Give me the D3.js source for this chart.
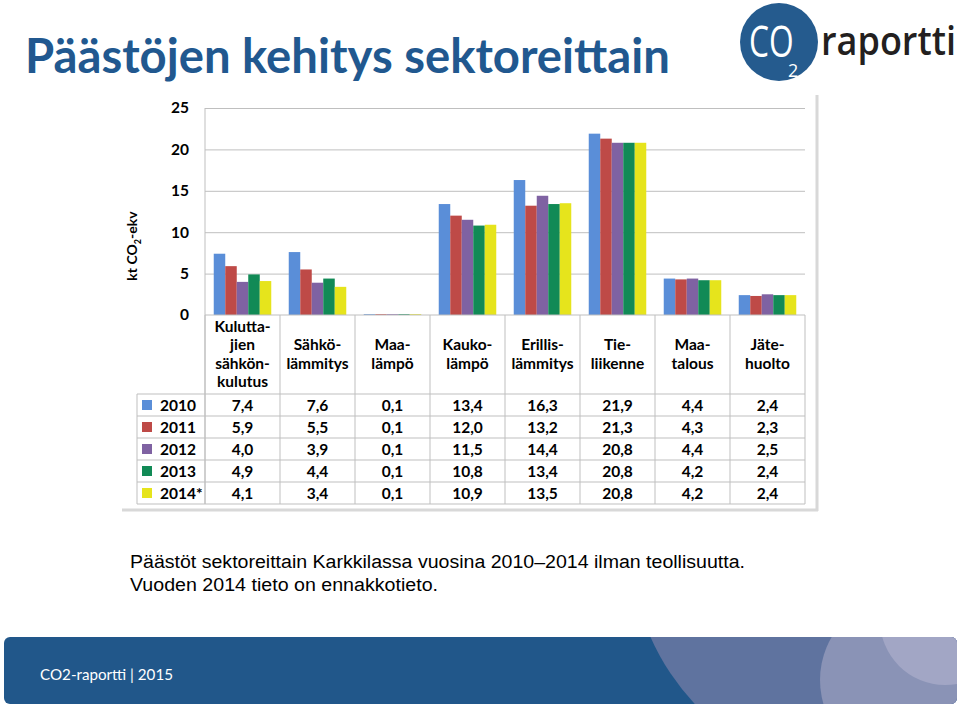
<!DOCTYPE html>
<html><head><meta charset="utf-8">
<script src="https://cdn.jsdelivr.net/npm/d3@7"></script>
<style>html,body{margin:0;padding:0;background:#fff;}svg{display:block;}</style>
</head><body>
<svg id="c" width="960" height="707"></svg>
<script>
const categories = [["Kulutta-","jien","sähkön-","kulutus"],["Sähkö-","lämmitys"],["Maa-","lämpö"],["Kauko-","lämpö"],["Erillis-","lämmitys"],["Tie-","liikenne"],["Maa-","talous"],["Jäte-","huolto"]];
const years = ["2010","2011","2012","2013","2014*"];
const v2010 = [7.4, 7.6, 0.1, 13.4, 16.3, 21.9, 4.4, 2.4];
const v2011 = [5.9, 5.5, 0.1, 12.0, 13.2, 21.3, 4.3, 2.3];
const v2012 = [4.0, 3.9, 0.1, 11.5, 14.4, 20.8, 4.4, 2.5];
const v2013 = [4.9, 4.4, 0.1, 10.8, 13.4, 20.8, 4.2, 2.4];
const v2014 = [4.1, 3.4, 0.1, 10.9, 13.5, 20.8, 4.2, 2.4];
const yTicks = [0, 5, 10, 15, 20, 25];
const seriesColors = ["#5A8ED8", "#BE4A47", "#7F62A2", "#118A56", "#E6E41C"];

const series = [v2010, v2011, v2012, v2013, v2014];
const svg = d3.select("#c");
const CAL = "Lato, 'Open Sans', sans-serif";

// Title
const title = svg.append("text").attr("x", 25).attr("y", 73)
  .attr("font-family", CAL).attr("font-weight", 700).attr("font-size", 40)
  .attr("fill", "#21588F").text("Päästöjen kehitys sektoreittain");
{ const w = title.node().getComputedTextLength(); title.attr("font-size", 40 * 645 / w); }

// Logo
svg.append("circle").attr("cx", 779).attr("cy", 42).attr("r", 39).attr("fill", "#255B8E");
svg.append("text").attr("transform", "translate(749,57) scale(0.72,1)").attr("font-family", "'Open Sans', sans-serif")
  .attr("font-size", 44).attr("fill", "#fff").text("CO");
svg.append("text").attr("x", 788).attr("y", 77).attr("font-family", "'Open Sans', sans-serif")
  .attr("font-size", 18).attr("fill", "#fff").text("2");
const rap = svg.append("text").attr("font-family", "'Open Sans', sans-serif").attr("font-weight", 600)
  .attr("font-size", 40).attr("fill", "#231F20").text("raportti");
{ const w = rap.node().getComputedTextLength(); rap.attr("transform", `translate(821,55) scale(${135 / w},1)`); }

// Chart frame shadow
svg.append("line").attr("x1", 817).attr("x2", 817).attr("y1", 95).attr("y2", 511).attr("stroke", "#D8D8D8").attr("stroke-width", 3);
svg.append("line").attr("x1", 122).attr("x2", 818).attr("y1", 510).attr("y2", 510).attr("stroke", "#D8D8D8").attr("stroke-width", 3);

// Scales
const x0 = d3.scaleBand().domain(d3.range(categories.length)).range([205, 805]).padding(0);
const x1 = d3.scaleBand().domain(d3.range(years.length)).range([0, x0.bandwidth()]).paddingInner(0).paddingOuter(0.76);
const y = d3.scaleLinear().domain([0, 25]).range([315, 108]);

// Gridlines
svg.append("g").attr("transform", "translate(205,0)")
  .call(d3.axisLeft(y).tickValues(yTicks.filter(t => t > 0)).tickSize(-600).tickFormat(""))
  .call(g => g.select(".domain").remove())
  .call(g => g.selectAll("line").attr("stroke", "#BFBFBF"));

// Y axis labels
svg.append("g").attr("transform", "translate(205,0)")
  .call(d3.axisLeft(y).tickValues(yTicks).tickSize(0).tickPadding(16))
  .call(g => g.select(".domain").remove())
  .call(g => g.selectAll("text").attr("font-family", CAL).attr("font-weight", 700).attr("font-size", 15.5).attr("fill", "#000"));
svg.append("line").attr("x1", 205).attr("x2", 205).attr("y1", 108).attr("y2", 504).attr("stroke", "#BFBFBF");

// Y title
const yt = svg.append("text").attr("transform", "translate(137,246) rotate(-90)").attr("text-anchor", "middle")
  .attr("font-family", CAL).attr("font-weight", 700).attr("font-size", 14).attr("fill", "#000");
yt.append("tspan").text("kt CO");
yt.append("tspan").attr("font-size", 9).attr("dy", 4).text("2");
yt.append("tspan").attr("dy", -4).text("-ekv");

// Bars
series.forEach((vals, si) => {
  svg.append("g").selectAll("rect").data(vals).join("rect")
    .attr("x", (d, i) => x0(i) + x1(si))
    .attr("width", x1.bandwidth())
    .attr("y", d => y(d))
    .attr("height", d => y(0) - y(d))
    .attr("fill", seriesColors[si]);
});

// Table
const rowTop = 394, rowH = 22;
const tbl = svg.append("g");
tbl.append("line").attr("x1", 205).attr("x2", 805).attr("y1", 315).attr("y2", 315).attr("stroke", "#BFBFBF");
d3.range(years.length + 1).forEach(r => {
  tbl.append("line").attr("x1", 137).attr("x2", 805).attr("y1", rowTop + r * rowH).attr("y2", rowTop + r * rowH).attr("stroke", "#BFBFBF");
});
d3.range(categories.length + 1).forEach(i => {
  const xx = i < categories.length ? x0(i) : 805;
  tbl.append("line").attr("x1", xx).attr("x2", xx).attr("y1", 315).attr("y2", rowTop + years.length * rowH).attr("stroke", "#BFBFBF");
});
tbl.append("line").attr("x1", 137).attr("x2", 137).attr("y1", rowTop).attr("y2", rowTop + years.length * rowH).attr("stroke", "#BFBFBF");

categories.forEach((lines, i) => {
  const t = tbl.append("text").attr("text-anchor", "middle").attr("font-family", CAL).attr("font-weight", 700)
    .attr("font-size", 15.5).attr("fill", "#000");
  lines.forEach((ln, k) => {
    t.append("tspan").attr("x", x0(i) + x0.bandwidth() / 2)
      .attr("y", 359.5 + (k - (lines.length - 1) / 2) * 18.5).text(ln);
  });
});
const fmt = v => d3.format(".1f")(v).replace(".", ",");
years.forEach((yr, si) => {
  const cy = rowTop + si * rowH + rowH / 2;
  tbl.append("rect").attr("x", 142).attr("y", cy - 5).attr("width", 10).attr("height", 10).attr("fill", seriesColors[si]);
  tbl.append("text").attr("x", 160).attr("y", cy + 5.5).attr("font-family", CAL).attr("font-weight", 700)
    .attr("font-size", 15.5).attr("fill", "#000").text(yr);
  series[si].forEach((v, i) => {
    tbl.append("text").attr("x", x0(i) + x0.bandwidth() / 2).attr("y", cy + 5.5).attr("text-anchor", "middle")
      .attr("font-family", CAL).attr("font-weight", 700).attr("font-size", 15.5).attr("fill", "#000").text(fmt(v));
  });
});

// Caption
svg.append("text").attr("x", 130).attr("y", 568).attr("font-family", "'Liberation Sans', Arial, sans-serif")
  .attr("font-size", 18).attr("fill", "#000").attr("textLength", 615).attr("lengthAdjust", "spacingAndGlyphs")
  .text("Päästöt sektoreittain Karkkilassa vuosina 2010–2014 ilman teollisuutta.");
svg.append("text").attr("x", 130).attr("y", 591).attr("font-family", "'Liberation Sans', Arial, sans-serif")
  .attr("font-size", 18).attr("fill", "#000").attr("textLength", 308).attr("lengthAdjust", "spacingAndGlyphs")
  .text("Vuoden 2014 tieto on ennakkotieto.");

// Footer
const defs = svg.append("defs");
defs.append("clipPath").attr("id", "band").append("rect").attr("x", 4).attr("y", 637).attr("width", 953).attr("height", 67).attr("rx", 6);
defs.append("clipPath").attr("id", "c2").append("circle").attr("cx", 905).attr("cy", 680).attr("r", 85);
const ft = svg.append("g").attr("clip-path", "url(#band)");
ft.append("rect").attr("x", 4).attr("y", 637).attr("width", 953).attr("height", 67).attr("fill", "#21578A");
ft.append("circle").attr("cx", 870).attr("cy", 540).attr("r", 240).attr("fill", "#5F739F");
ft.append("circle").attr("cx", 905).attr("cy", 680).attr("r", 85).attr("fill", "#8A93B6");
ft.append("circle").attr("cx", 945).attr("cy", 620).attr("r", 65).attr("fill", "#A2A6C5").attr("clip-path", "url(#c2)");
svg.append("text").attr("x", 40).attr("y", 680).attr("font-family", CAL).attr("font-size", 16).attr("fill", "#fff")
  .attr("textLength", 133).attr("lengthAdjust", "spacingAndGlyphs").text("CO2-raportti | 2015");
</script>
</body></html>
